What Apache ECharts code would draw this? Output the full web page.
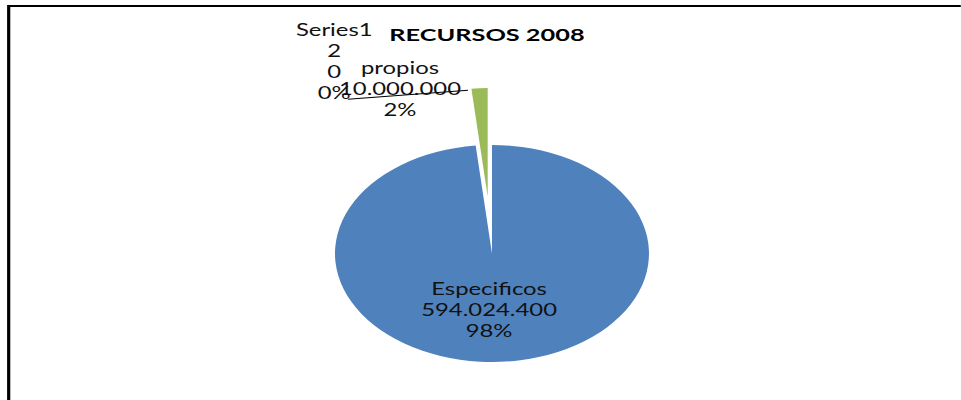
<!DOCTYPE html>
<html><head><meta charset="utf-8">
<script src="https://cdn.jsdelivr.net/npm/echarts@6/dist/echarts.min.js"></script>
<style>
html,body{margin:0;padding:0;background:#fff;overflow:hidden;width:961px;height:400px}
#chart{width:664px;height:400px;transform:scaleX(1.447);transform-origin:0 0;}
</style></head><body><div id="chart"></div>
<script>
const titleText = 'RECURSOS 2008';
const seriesName = 'Series1';
const categories = ['Especificos', 'propios', '2'];
const values = [594024400, 10000000, 0];
const sliceColors = ['#4F81BD', '#9BBB59', '#8064A2'];
const explodedSlice = [false, true, false];
const labelWithSeriesName = [false, false, true];
const labelPlacement = ['inside', 'outside', 'outside'];

const fmt = v => String(v).replace(/\B(?=(\d{3})+(?!\d))/g, '.');

const chart = echarts.init(document.getElementById('chart'), null, {renderer: 'svg'});
const font = 'Lato, "Open Sans", sans-serif';

const data = categories.map((name, i) => ({
  name: name,
  value: values[i],
  selected: explodedSlice[i],
  itemStyle: {color: sliceColors[i]},
  label: {position: labelPlacement[i]},
  labelLine: {show: labelPlacement[i] === 'outside' && !labelWithSeriesName[i]}
}));

chart.setOption({
  animation: false,
  backgroundColor: '#fff',
  title: {
    text: titleText,
    left: 331.5, top: 21, textAlign: 'center',
    textStyle: {fontFamily: font, fontWeight: 'bold', fontSize: 17.5, color: '#000'}
  },
  graphic: [{
    type: 'rect', shape: {x: 6, y: 6, width: 2000, height: 2000},
    style: {fill: 'none', stroke: '#000', lineWidth: 2.2}, silent: true
  }],
  series: [{
    type: 'pie',
    name: seriesName,
    center: [340, 253.5],
    radius: 108.5,
    startAngle: 90,
    clockwise: true,
    selectedMode: 'single',
    selectedOffset: 57,
    percentPrecision: 0,
    avoidLabelOverlap: false,
    silent: true,
    emphasis: {disabled: true},
    label: {
      show: true,
      fontFamily: font, fontSize: 16.5, lineHeight: 21, color: '#111', align: 'center',
      rich: {c: {align: 'center', width: 90, fontFamily: font, fontSize: 16.5, lineHeight: 21, color: '#111'}},
      formatter: p => {
        const lines = (labelWithSeriesName[p.dataIndex] ? [p.seriesName] : [])
          .concat([p.name, fmt(p.value), p.percent + '%']);
        return p.dataIndex === 1 ? lines.map(t => '{c|' + t + '}').join('\n') : lines.join('\n');
      }
    },
    labelLine: {show: true, length: 0, length2: 5, smooth: false, lineStyle: {color: '#000', width: 1.2}},
    labelLayout: function (p) {
      if (p.dataIndex === 0) {
        return {x: p.rect.x + p.rect.width / 2 - 2, y: p.rect.y + p.rect.height / 2 + 56.5,
          align: 'center', verticalAlign: 'middle'};
      }
      if (p.dataIndex === 1) {
        const a = p.labelLinePoints[0];
        return {labelLinePoints: [[a[0] - 8, a[1] + 2], [a[0] - 91, a[1] + 11]]};
      }
      if (p.dataIndex === 2) {
        return {x: p.rect.x - 109, y: p.rect.y - 84, align: 'center', verticalAlign: 'middle'};
      }
      return {};
    },
    data: data
  }]
});
</script></body></html>
